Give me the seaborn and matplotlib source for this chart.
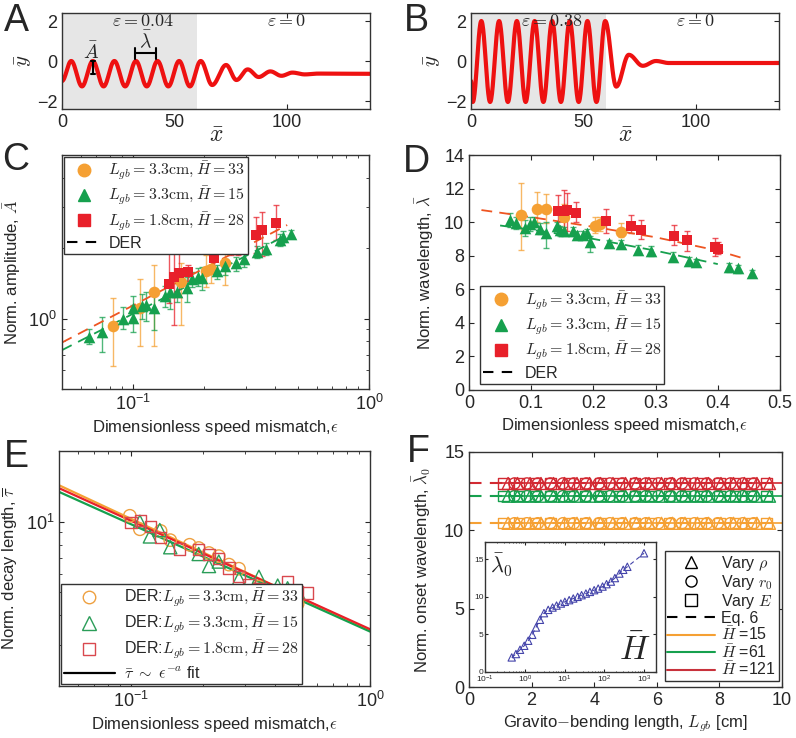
import numpy as np
import matplotlib
matplotlib.use('Agg')
import matplotlib.pyplot as plt
from matplotlib.lines import Line2D
from matplotlib.ticker import NullFormatter
import seaborn as sns

# ---------------- data ----------------
# A / B : extrema of the rod shape (x, y)
a_x = [0, 4.1, 8.9, 13.7, 18.5, 23.3, 28.1, 32.9, 37.7, 42.5, 47.3, 52.1, 56.9, 61.7,
       66.8, 73.0, 77.6, 82.6, 87.5, 92.7, 97.6, 102.5, 108, 114, 137]
a_y = [-1.0, 0, -1.27, 0, -1.27, 0, -1.27, 0, -1.27, 0, -1.27, 0, -1.27, 0,
       -1.2, -0.2, -0.95, -0.42, -0.8, -0.52, -0.74, -0.58, -0.67, -0.63, -0.64]
b_x = [0, 0.8, 4.6, 8.5, 12.5, 16.4, 20.4, 24.3, 28.3, 32.2, 36.1, 40.0, 43.9, 47.9,
       51.8, 55.8, 59.7, 64.6, 70.2, 76.4, 82.3, 88, 137]
b_y = [-1.0, -2.05, 2.0, -2.05, 2.0, -2.05, 2.0, -2.05, 2.0, -2.05, 2.0, -2.05, 2.0, -2.05,
       2.0, -2.05, 2.0, -1.28, 0.31, -0.24, 0.0, -0.1, -0.1]

# C : amplitude vs eps
c_eps_o = [0.0825, 0.107, 0.123, 0.160, 0.204, 0.213, 0.246]
c_amp_o = [0.925, 1.11, 1.30, 1.44, 1.60, 1.63, 1.73]
c_lo_o = [0.63, 0.76, 0.76, 0.94, 1.37, 1.42, 1.39]
c_hi_o = [1.22, 1.47, 1.70, 1.73, 1.87, 1.91, 1.91]

c_eps_g = [0.065, 0.074, 0.091, 0.100, 0.100, 0.109, 0.114, 0.123, 0.137, 0.144, 0.153, 0.169,
           0.178, 0.188, 0.196, 0.227, 0.246, 0.272, 0.295, 0.334, 0.365, 0.419, 0.433, 0.466]
c_amp_g = [0.83, 0.875, 1.0, 1.007, 1.11, 1.13, 1.14, 1.11, 1.25, 1.30, 1.30, 1.35,
           1.47, 1.51, 1.49, 1.59, 1.67, 1.72, 1.79, 1.93, 1.98, 2.17, 2.24, 2.30]
c_lo_g = [0.78, 0.72, 0.90, 0.88, 1.0, 1.0, 0.98, 0.89, 1.12, 1.10, 1.18, 1.18,
          1.36, 1.38, 1.32, 1.48, 1.54, 1.60, 1.66, 1.82, 1.86, 2.05, 2.12, 2.20]
c_hi_g = [0.90, 1.02, 1.12, 1.14, 1.25, 1.27, 1.30, 1.26, 1.38, 1.45, 1.42, 1.50,
          1.58, 1.64, 1.66, 1.70, 1.80, 1.84, 1.92, 2.04, 2.10, 2.30, 2.36, 2.40]

c_eps_r = [0.142, 0.149, 0.157, 0.171, 0.220, 0.261, 0.278, 0.333, 0.351, 0.402]
c_amp_r = [1.41, 1.50, 1.56, 1.58, 1.82, 1.97, 2.05, 2.28, 2.38, 2.55]
c_lo_r = [1.17, 0.94, 1.24, 1.45, 1.65, 1.87, 1.87, 1.90, 1.85, 2.17]
c_hi_r = [1.93, 1.93, 1.93, 1.70, 2.17, 2.17, 2.25, 2.72, 2.85, 3.06]

c_der_eps = [0.05, 0.45]
c_der_o = [0.79, 2.51]
c_der_g = [0.733, 2.28]

# D : wavelength vs eps
d_eps_o = [0.0836, 0.109, 0.124, 0.152, 0.2026, 0.211, 0.244]
d_lam_o = [10.42, 10.81, 10.77, 10.28, 9.80, 9.88, 9.44]
d_lo_o = [8.37, 10.0, 9.92, 9.62, 9.33, 9.5, 9.09]
d_hi_o = [12.36, 11.8, 11.65, 11.1, 10.3, 10.3, 9.92]

d_eps_g = [0.0659, 0.0756, 0.090, 0.098, 0.1045, 0.114, 0.124, 0.141, 0.146, 0.153, 0.168, 0.174,
           0.183, 0.189, 0.1945, 0.2256, 0.244, 0.272, 0.2926, 0.3285, 0.353, 0.365, 0.4175, 0.433, 0.455]
d_lam_g = [10.12, 9.96, 9.68, 9.88, 10.02, 9.62, 9.33, 9.76, 9.52, 9.46, 9.46, 9.23,
           9.23, 9.33, 8.83, 8.73, 8.69, 8.37, 8.27, 7.94, 7.70, 7.60, 7.30, 7.24, 6.98]
d_lo_g = [9.7, 9.6, 9.2, 9.5, 9.7, 9.3, 8.43, 9.5, 9.2, 9.2, 9.2, 9.0,
          9.0, 9.1, 8.23, 8.5, 8.45, 8.1, 8.0, 7.7, 7.5, 7.4, 7.05, 7.0, 6.8]
d_hi_g = [10.55, 10.3, 10.15, 10.3, 10.3, 9.95, 10.0, 10.0, 9.8, 9.7, 9.7, 9.5,
          9.5, 9.6, 9.17, 8.95, 8.95, 8.65, 8.55, 8.2, 7.9, 7.8, 7.55, 7.45, 7.15]

d_eps_r = [0.1436, 0.152, 0.157, 0.1715, 0.22, 0.260, 0.2765, 0.330, 0.350, 0.3955, 0.401]
d_lam_r = [10.65, 10.65, 10.71, 10.56, 10.06, 9.80, 9.52, 9.19, 8.93, 8.51, 8.41]
d_lo_r = [9.72, 9.5, 9.5, 10.0, 9.33, 9.33, 8.97, 8.65, 8.3, 7.98, 8.1]
d_hi_r = [11.6, 11.9, 11.75, 11.2, 10.8, 10.4, 10.1, 9.82, 9.46, 9.03, 8.84]

d_der_eps_o = [0.02, 0.1, 0.2, 0.3, 0.4, 0.445]
d_der_o = [10.72, 10.3, 9.72, 9.1, 8.3, 7.8]
d_der_eps_g = [0.05, 0.1, 0.2, 0.3, 0.4]
d_der_g = [9.8, 9.55, 9.0, 8.3, 7.5]

# E : decay length vs eps (DER)
e_eps_o = [0.0989, 0.109, 0.133, 0.146, 0.176, 0.192, 0.212, 0.233, 0.257, 0.283, 0.343, 0.411, 0.498]
e_tau_o = [10.6, 9.29, 9.14, 8.35, 7.98, 7.73, 7.36, 7.14, 6.57, 6.31, 5.29, 5.05, 4.47]
e_eps_g = [0.109, 0.120, 0.132, 0.146, 0.192, 0.212, 0.233, 0.283, 0.343, 0.372, 0.411, 0.452, 0.498]
e_tau_g = [10.0, 8.66, 9.22, 7.79, 7.29, 6.48, 6.77, 5.74, 5.83, 5.12, 5.35, 5.21, 5.05]
e_eps_r = [0.100, 0.110, 0.121, 0.133, 0.160, 0.192, 0.212, 0.233, 0.257, 0.283, 0.312, 0.343,
           0.411, 0.452, 0.498, 0.548]
e_tau_r = [9.9, 10.15, 9.53, 8.57, 7.66, 7.59, 7.23, 6.95, 6.36, 5.83, 5.41, 5.21,
           5.05, 5.59, 5.05, 4.97]
e_fit_eps = [0.05, 1.0]
e_fit_o = [14.3, 3.45]
e_fit_g = [13.4, 3.41]
e_fit_r = [13.9, 3.49]

# F : onset wavelength vs Lgb
f_rho_x = [1.25, 1.55, 1.95, 2.3, 2.7, 3.05, 3.45, 3.85, 4.2, 4.6, 5.0, 5.35, 5.75, 6.15,
           6.5, 6.9, 7.3, 7.65, 8.05, 8.45, 8.8, 9.2, 9.6]
f_r0_x = [1.45, 1.85, 2.2, 2.6, 3.0, 3.35, 3.75, 4.15, 4.5, 4.9, 5.3, 5.65, 6.05, 6.45,
          6.8, 7.2, 7.6, 7.95, 8.35, 8.75, 9.1]
f_E_x = [1.1, 1.6, 2.1, 2.6, 3.2, 3.7, 4.2, 4.8, 5.3, 5.8, 6.4, 6.9, 7.4, 8.0, 8.5, 9.0, 9.5]
f_H = [15, 61, 121]
f_level = [10.45, 12.18, 12.99]
f_eq6_x = [0, 10]
f_fit_x = [1.0, 10]

# F inset : lambda0 vs H
in_H = [0.47, 0.60, 0.76, 0.97, 1.22, 1.54, 1.91, 2.41, 3.04, 3.89, 5.0, 6.3, 8.1, 10.2,
        13.1, 16.6, 21.4, 26.9, 34.5, 43.5, 55.7, 70.3, 90.5, 114, 147, 185, 240, 300, 380, 1000]
in_lam = [1.94, 2.39, 2.96, 3.49, 4.16, 4.95, 5.92, 6.95, 7.83, 8.27, 8.58, 8.84, 9.11, 9.34,
          9.56, 9.78, 10.0, 10.22, 10.44, 10.66, 10.89, 11.1, 11.37, 11.69, 12.03, 12.5, 13.1,
          13.6, 14.0, 15.8]

# ---------------- style ----------------
sns.set_style('ticks')
plt.rcParams['font.family'] = ['Liberation Sans', 'DejaVu Sans']
plt.rcParams['mathtext.fontset'] = 'cm'
plt.rcParams.update({
    'xtick.direction': 'in', 'ytick.direction': 'in',
    'xtick.top': True, 'ytick.right': True,
    'xtick.minor.top': True, 'ytick.minor.right': True,
    'axes.edgecolor': '#333333', 'axes.linewidth': 1.0,
    'font.size': 12, 'xtick.labelsize': 13, 'ytick.labelsize': 13,
    'axes.labelsize': 12,
})

ORANGE = '#f5a033'
GREEN = '#16a04e'
RED = '#e8202a'
O_OPEN = '#eea040'
G_OPEN = '#2a9d58'
R_OPEN = '#d9484e'

W, H = 796, 738
fig = plt.figure(figsize=(W / 100, H / 100), dpi=100)


def box(l, t, r, b):
    return [l / W, 1 - b / H, (r - l) / W, (b - t) / H]


def wave(xk, yk, n=24):
    xs, ys = [], []
    for i in range(len(xk) - 1):
        t = np.linspace(0, 1, n, endpoint=False)
        xs.append(xk[i] + (xk[i + 1] - xk[i]) * t)
        ys.append(yk[i] + (yk[i + 1] - yk[i]) * (1 - np.cos(np.pi * t)) / 2)
    xs.append([xk[-1]])
    ys.append([yk[-1]])
    return np.concatenate(xs), np.concatenate(ys)


def letter(x, y, s):
    fig.text(x / W, 1 - y / H, s, fontsize=27, ha='center', va='center')


def no_minor_labels(ax):
    ax.xaxis.set_minor_formatter(NullFormatter())
    ax.yaxis.set_minor_formatter(NullFormatter())


leg_kw = dict(frameon=True, fancybox=False, edgecolor='#333333', framealpha=1,
              borderaxespad=0.1)

# ---------------- A & B ----------------
for pos, xk, yk, eps_txt, eps_x, lab, lx in [
        ((62, 13, 370, 109), a_x, a_y, r'$\varepsilon = 0.04$', 36, 'A', 16),
        ((471, 13, 779, 109), b_x, b_y, r'$\varepsilon = 0.38$', 36, 'B', 416)]:
    ax = fig.add_axes(box(*pos))
    ax.axvspan(0, 60, color='#e6e6e6', lw=0)
    xx, yy = wave(xk, yk)
    sns.lineplot(x=xx, y=yy, ax=ax, color='#ee1111', lw=3, sort=False)
    ax.set_xlim(0, 137)
    ax.set_ylim(-2.4, 2.4)
    ax.set_xticks([0, 50, 100])
    ax.set_yticks([-2, 0, 2])
    ax.text(eps_x, 1.95, eps_txt, ha='center', va='center', fontsize=13)
    ax.text(100, 1.95, r'$\varepsilon = 0$', ha='center', va='center', fontsize=13)
    ax.set_xlabel(r'$\bar{x}$', fontsize=17, labelpad=-4)
    ax.set_ylabel(r'$\bar{y}$', fontsize=15, labelpad=2)
    letter(lx, 21, lab)
    if lab == 'A':
        ax.plot([13.7, 13.7], [-0.63, 0], color='black', lw=1.5)
        ax.plot([12.9, 14.5], [-0.63, -0.63], color='black', lw=1.5)
        ax.plot([12.9, 14.5], [0, 0], color='black', lw=1.5)
        ax.text(13.0, 0.45, r'$\bar{A}$', ha='center', va='center', fontsize=14)
        ax.plot([32.4, 41.7], [0.38, 0.38], color='black', lw=1.5)
        ax.plot([32.4, 32.4], [0.12, 0.64], color='black', lw=1.5)
        ax.plot([41.7, 41.7], [0.12, 0.64], color='black', lw=1.5)
        ax.text(37, 1.05, r'$\bar{\lambda}$', ha='center', va='center', fontsize=14)

# ---------------- C ----------------
axc = fig.add_axes(box(62, 155, 369, 389))
axc.set_xscale('log')
axc.set_yscale('log')
for eps, val, lo, hi, col, mk, sz in [
        (c_eps_o, c_amp_o, c_lo_o, c_hi_o, ORANGE, 'o', 70),
        (c_eps_g, c_amp_g, c_lo_g, c_hi_g, GREEN, '^', 70),
        (c_eps_r, c_amp_r, c_lo_r, c_hi_r, RED, 's', 50)]:
    v = np.array(val)
    axc.errorbar(eps, v, yerr=[v - np.array(lo), np.array(hi) - v], fmt='none',
                 ecolor=col, alpha=0.75, lw=1, capsize=2)
    sns.scatterplot(x=eps, y=val, ax=axc, color=col, marker=mk, s=sz, edgecolor=col,
                    linewidth=0, zorder=3)
sns.lineplot(x=c_der_eps, y=c_der_o, ax=axc, color='#ee5522', lw=1.3)
sns.lineplot(x=c_der_eps, y=c_der_g, ax=axc, color=GREEN, lw=1.3)
axc.lines[-1].set_linestyle((0, (6, 4)))
axc.lines[-2].set_linestyle((0, (6, 4)))
axc.set_xlim(0.05, 1)
axc.set_ylim(0.5, 5)
no_minor_labels(axc)
axc.set_xlabel(r'Dimensionless speed mismatch,$\epsilon$', labelpad=3)
axc.set_ylabel(r'Norm. amplitude, $\bar{A}$', labelpad=4)
leg_pts = [
    Line2D([], [], marker='o', color=ORANGE, ls='none', markersize=9),
    Line2D([], [], marker='^', color=GREEN, ls='none', markersize=9),
    Line2D([], [], marker='s', color=RED, ls='none', markersize=8),
    Line2D([], [], color='black', ls=(0, (5, 4)), lw=1.5)]
leg_lab = [r'$L_{gb} = 3.3\mathrm{cm}, \bar{H} = 33$',
           r'$L_{gb} = 3.3\mathrm{cm}, \bar{H} = 15$',
           r'$L_{gb} = 1.8\mathrm{cm}, \bar{H} = 28$', 'DER']
axc.legend(leg_pts, leg_lab, loc='upper left', bbox_to_anchor=(0.0, 1.0), fontsize=11.5,
           borderpad=0.2, labelspacing=0.2, handlelength=2.2, handletextpad=0.4, **leg_kw)
letter(16, 160, 'C')

# ---------------- D ----------------
axd = fig.add_axes(box(469, 155, 780, 390))
for eps, val, lo, hi, col, mk, sz in [
        (d_eps_o, d_lam_o, d_lo_o, d_hi_o, ORANGE, 'o', 70),
        (d_eps_g, d_lam_g, d_lo_g, d_hi_g, GREEN, '^', 70),
        (d_eps_r, d_lam_r, d_lo_r, d_hi_r, RED, 's', 50)]:
    v = np.array(val)
    axd.errorbar(eps, v, yerr=[v - np.array(lo), np.array(hi) - v], fmt='none',
                 ecolor=col, alpha=0.75, lw=1, capsize=2)
    sns.scatterplot(x=eps, y=val, ax=axd, color=col, marker=mk, s=sz, edgecolor=col,
                    linewidth=0, zorder=3)
sns.lineplot(x=d_der_eps_o, y=d_der_o, ax=axd, color='#ee5522', lw=1.3)
sns.lineplot(x=d_der_eps_g, y=d_der_g, ax=axd, color=GREEN, lw=1.3)
axd.lines[-1].set_linestyle((0, (6, 4)))
axd.lines[-2].set_linestyle((0, (6, 4)))
axd.set_xlim(0, 0.5)
axd.set_ylim(0, 14)
axd.set_xticks([0, 0.1, 0.2, 0.3, 0.4, 0.5])
axd.set_xticklabels(['0', '0.1', '0.2', '0.3', '0.4', '0.5'])
axd.set_yticks(range(0, 15, 2))
axd.set_xlabel(r'Dimensionless speed mismatch,$\epsilon$', labelpad=3)
axd.set_ylabel(r'Norm. wavelength, $\bar{\lambda}$', labelpad=6)
axd.legend(leg_pts, leg_lab, loc='lower left', bbox_to_anchor=(0.03, 0.02), fontsize=11.5,
           borderpad=0.2, labelspacing=0.2, handlelength=2.2, handletextpad=0.4, **leg_kw)
letter(416, 162, 'D')

# ---------------- E ----------------
axe = fig.add_axes(box(59, 451, 370, 686))
axe.set_xscale('log')
axe.set_yscale('log')
for fy, col in [(e_fit_o, ORANGE), (e_fit_g, GREEN), (e_fit_r, RED)]:
    sns.lineplot(x=e_fit_eps, y=fy, ax=axe, color=col, lw=1.6)
for eps, val, col, mk, sz in [
        (e_eps_o, e_tau_o, O_OPEN, 'o', 80),
        (e_eps_g, e_tau_g, G_OPEN, '^', 90),
        (e_eps_r, e_tau_r, R_OPEN, 's', 65)]:
    sns.scatterplot(x=eps, y=val, ax=axe, marker=mk, s=sz, facecolor='none',
                    edgecolor=col, linewidth=1.0, zorder=3)
axe.set_xlim(0.05, 1)
axe.set_ylim(2, 20)
no_minor_labels(axe)
axe.set_xlabel(r'Dimensionless speed mismatch,$\epsilon$', labelpad=3)
axe.set_ylabel(r'Norm. decay length, $\overline{\tau}$', labelpad=4)
e_pts = [
    Line2D([], [], marker='o', mfc='none', mec=O_OPEN, ls='none', markersize=9),
    Line2D([], [], marker='^', mfc='none', mec=G_OPEN, ls='none', markersize=10),
    Line2D([], [], marker='s', mfc='none', mec=R_OPEN, ls='none', markersize=8),
    Line2D([], [], color='black', lw=1.6)]
e_lab = [r'DER:$L_{gb} = 3.3\mathrm{cm}, \bar{H} = 33$',
         r'DER:$L_{gb} = 3.3\mathrm{cm}, \bar{H} = 15$',
         r'DER:$L_{gb} = 1.8\mathrm{cm}, \bar{H} = 28$',
         r'$\bar{\tau}\ \sim\ \epsilon^{-a}$ fit']
axe.legend(e_pts, e_lab, loc='lower left', bbox_to_anchor=(0.0, 0.0), fontsize=11.5,
           borderpad=0.2, labelspacing=0.25, handlelength=3.2, handletextpad=0.6, **leg_kw)
letter(16, 457, 'E')

# ---------------- F ----------------
axf = fig.add_axes(box(469, 452, 782, 687))
f_cols = [ORANGE, GREEN, '#d22a32']
for lev, col in zip(f_level, f_cols):
    axf.plot(f_eq6_x, [lev, lev], color=col, lw=1.5, ls=(0, (6, 4)))
    sns.lineplot(x=f_fit_x, y=[lev, lev], ax=axf, color=col, lw=1.2)
    for xs, mk, sz in [(f_rho_x, '^', 75), (f_r0_x, 'o', 65), (f_E_x, 's', 55)]:
        sns.scatterplot(x=xs, y=[lev] * len(xs), ax=axf, marker=mk, s=sz, facecolor='none',
                        edgecolor=col, linewidth=1.0, zorder=3)
axf.set_xlim(0, 10)
axf.set_ylim(0, 15)
axf.set_xticks(range(0, 11, 2))
axf.set_yticks([0, 5, 10, 15])
axf.set_xlabel(r'Gravito$-$bending length, $L_{gb}$ [cm]', labelpad=3)
axf.set_ylabel(r'Norm. onset wavelength, $\bar{\lambda}_0$', labelpad=8)
f_pts = [
    Line2D([], [], marker='^', mfc='none', mec='black', ls='none', markersize=9),
    Line2D([], [], marker='o', mfc='none', mec='black', ls='none', markersize=8),
    Line2D([], [], marker='s', mfc='none', mec='black', ls='none', markersize=8),
    Line2D([], [], color='black', lw=1.5, ls=(0, (5, 4))),
    Line2D([], [], color=ORANGE, lw=1.5),
    Line2D([], [], color=GREEN, lw=1.5),
    Line2D([], [], color='#c8323c', lw=1.5)]
f_lab = [r'Vary $\rho$', r'Vary $r_0$', r'Vary $E$', 'Eq. 6',
         r'$\bar{H}$ =' + str(f_H[0]), r'$\bar{H}$ =' + str(f_H[1]), r'$\bar{H}$ =' + str(f_H[2])]
axf.legend(f_pts, f_lab, loc='lower right', bbox_to_anchor=(0.995, 0.02), fontsize=11.5,
           borderpad=0.15, labelspacing=0.0, handlelength=3.0, handletextpad=0.4, **leg_kw)
letter(418, 452, 'F')

# inset
axi = fig.add_axes(box(485, 542, 656, 672))
axi.set_xscale('log')
sns.lineplot(x=in_H, y=in_lam, ax=axi, color='#4444aa', lw=0.8)
axi.lines[-1].set_linestyle((0, (4, 3)))
sns.scatterplot(x=in_H, y=in_lam, ax=axi, marker='^', s=28, facecolor='none',
                edgecolor='#4444aa', linewidth=0.8, zorder=3)
axi.set_xlim(0.1, 2000)
axi.set_ylim(0, 17.3)
axi.set_yticks([0, 5, 10, 15])
axi.xaxis.set_minor_formatter(NullFormatter())
axi.tick_params(labelsize=6, length=2, pad=1)
axi.tick_params(which='minor', length=1)
axi.text(0.13, 14.2, r'$\bar{\lambda}_0$', fontsize=16, ha='left', va='center')
axi.text(0.97, 0.04, r'$\bar{H}$', fontsize=24, ha='right', va='bottom',
         transform=axi.transAxes)

fig.savefig('out.png', dpi=100)
